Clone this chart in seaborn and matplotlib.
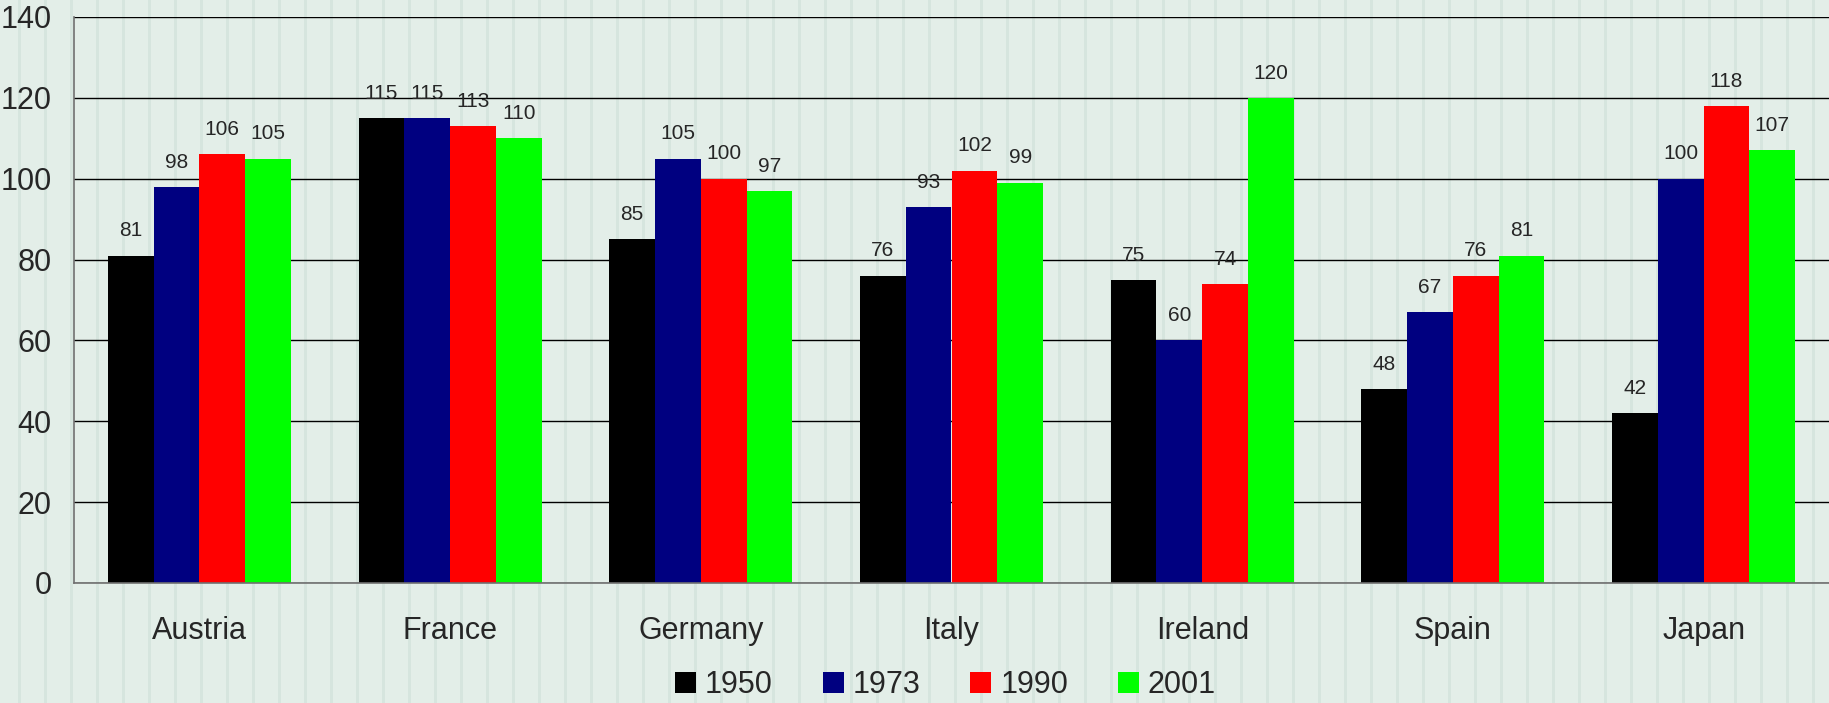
import numpy as np
import pandas as pd
import matplotlib
matplotlib.use('Agg')
import matplotlib.pyplot as plt
import seaborn as sns

countries = ['Austria', 'France', 'Germany', 'Italy', 'Ireland', 'Spain', 'Japan']
years = ['1950', '1973', '1990', '2001']
v1950 = [81, 115, 85, 76, 75, 48, 42]
v1973 = [98, 115, 105, 93, 60, 67, 100]
v1990 = [106, 113, 100, 102, 74, 76, 118]
v2001 = [105, 110, 97, 99, 120, 81, 107]
colors = ['#000000', '#000080', '#ff0000', '#00ff00']

df = pd.DataFrame({
    'country': countries * 4,
    'year': [y for y in years for _ in countries],
    'value': v1950 + v1973 + v1990 + v2001,
})

sns.set_style('white')
plt.rcParams['font.family'] = ['Liberation Sans', 'DejaVu Sans']

W, H = 1829, 703
fig = plt.figure(figsize=(W / 100, H / 100), dpi=100)

# pale background with faint vertical stripes
bg = np.ones((H, W, 3)) * np.array([0xe3, 0xee, 0xe8]) / 255
for x in range(18, W, 26):
    bg[:, x:x + 3] = np.array([0xd6, 0xe5, 0xde]) / 255
fig.figimage(bg, 0, 0, zorder=0)

ax = fig.add_axes([74 / W, 1 - 583 / H, 1 - 74 / W, (583 - 17) / H])
ax.set_zorder(2)
ax.patch.set_alpha(0)

sns.barplot(data=df, x='country', y='value', hue='year', palette=colors,
            width=0.73, gap=0, saturation=1, linewidth=0, ax=ax, legend=True)

for c in ax.containers:
    ax.bar_label(c, fmt='%.0f', padding=11, fontsize=15)

ax.set_ylim(0, 140)
ax.set_xlim(-0.5, len(countries) - 0.5)
ax.set_yticks(range(0, 141, 20))
ax.yaxis.grid(True, color='black', lw=1)
ax.set_axisbelow(True)
ax.set_xlabel('')
ax.set_ylabel('')

ax.set_xticks(np.arange(len(countries) + 1) - 0.5)
ax.set_xticklabels([])
ax.set_xticks(np.arange(len(countries)), minor=True)
ax.set_xticklabels(countries, minor=True)
ax.tick_params(axis='x', which='major', length=7, width=1.2, color='#707070', direction='out')
ax.tick_params(axis='x', which='minor', length=0, pad=24, labelsize=22)
ax.tick_params(axis='y', length=7, width=1.2, color='#707070', direction='out', pad=9, labelsize=22)

for s in ['top', 'right']:
    ax.spines[s].set_visible(False)
for s in ['left', 'bottom']:
    ax.spines[s].set_color('#707070')
    ax.spines[s].set_linewidth(1.2)

sns.move_legend(ax, 'center', bbox_to_anchor=(0.517, 0.026), bbox_transform=fig.transFigure,
                ncol=4, frameon=False, title=None, fontsize=22,
                handlelength=0.68, handleheight=0.68, handletextpad=0.3, columnspacing=1.63)

fig.savefig('out.png', dpi=100)
